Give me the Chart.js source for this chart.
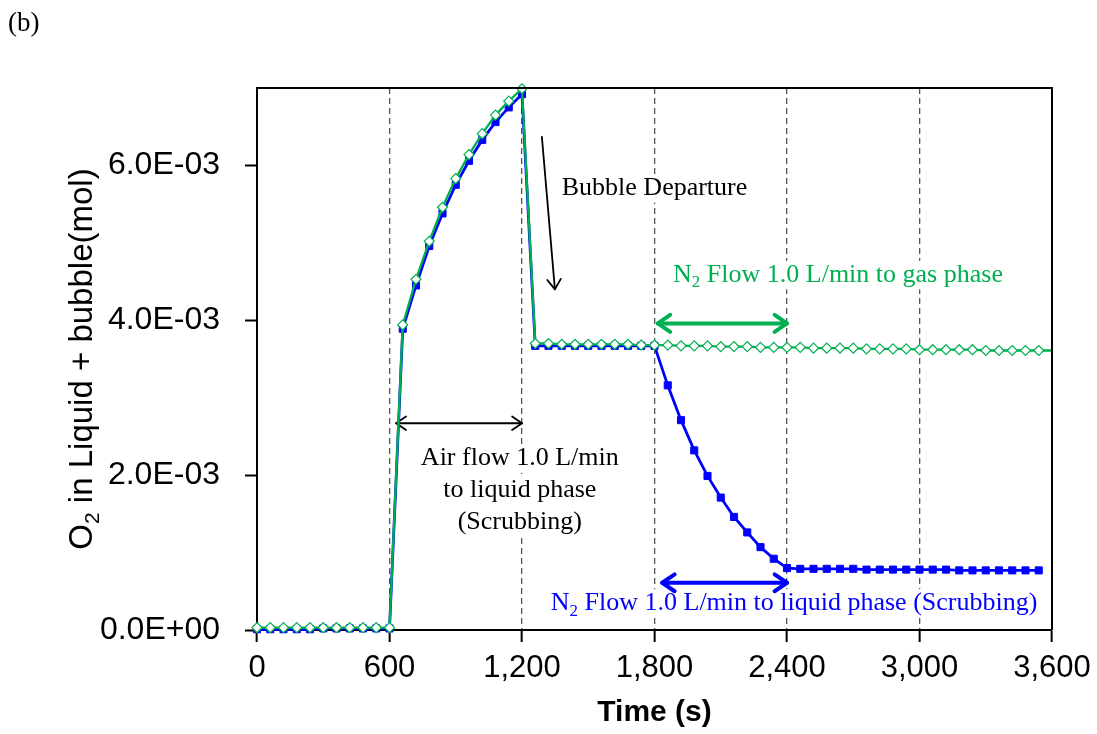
<!DOCTYPE html>
<html>
<head>
<meta charset="utf-8">
<script src="https://cdn.jsdelivr.net/npm/chart.js@4.4.0/dist/chart.umd.min.js"></script>
<style>
  html, body { margin: 0; padding: 0; background: #fff; }
  #wrap { position: relative; width: 1097px; height: 734px; }
</style>
</head>
<body>
<div id="wrap"><canvas id="o2chart"></canvas></div>
<script>
// Tiempo de muestreo (s), un punto por minuto
const timeS = [0, 60, 120, 180, 240, 300, 360, 420, 480, 540, 600,
  660, 720, 780, 840, 900, 960, 1020, 1080, 1140, 1200,
  1260, 1320, 1380, 1440, 1500, 1560, 1620, 1680, 1740, 1800,
  1860, 1920, 1980, 2040, 2100, 2160, 2220, 2280, 2340, 2400,
  2460, 2520, 2580, 2640, 2700, 2760, 2820, 2880, 2940, 3000,
  3060, 3120, 3180, 3240, 3300, 3360, 3420, 3480, 3540];

// O2 (mol) con N2 al liquido (azul)
const liquidO2 = [0.00001, 0.00001, 0.00001, 0.00001, 0.00001, 0.00002, 0.00002, 0.00002, 0.00002, 0.00002, 0.00002,
  0.00389, 0.00445, 0.00496, 0.00538, 0.00575, 0.00606, 0.00633, 0.00656, 0.00675, 0.00692,
  0.00367, 0.00367, 0.00367, 0.00367, 0.00367, 0.00367, 0.00367, 0.00367, 0.00367, 0.00367,
  0.00316, 0.00271, 0.00232, 0.00199, 0.00171, 0.00146, 0.00126, 0.00107, 0.00092, 0.00080,
  0.00079, 0.00079, 0.00079, 0.00079, 0.00079, 0.00078, 0.00078, 0.00078, 0.00078, 0.00078,
  0.00078, 0.00078, 0.00077, 0.00077, 0.00077, 0.00077, 0.00077, 0.00077, 0.00077];

// O2 (mol) con N2 a la fase gas (verde), sigue hasta 3600 s
const gasTime = timeS.concat([3600]);
const gasO2 = [0.00003, 0.00003, 0.00003, 0.00003, 0.00003, 0.00003, 0.00003, 0.00003, 0.00003, 0.00003, 0.00003,
  0.00394, 0.00453, 0.00502, 0.00546, 0.00583, 0.00614, 0.00641, 0.00665, 0.00683, 0.00699,
  0.00370, 0.00370, 0.00369, 0.00369, 0.00369, 0.00369, 0.00369, 0.00369, 0.00368, 0.00368,
  0.00368, 0.00367, 0.00367, 0.00367, 0.00366, 0.00366, 0.00366, 0.00365, 0.00365, 0.00365,
  0.00365, 0.00364, 0.00364, 0.00364, 0.00364, 0.00363, 0.00363, 0.00363, 0.00363, 0.00362,
  0.00362, 0.00362, 0.00362, 0.00362, 0.00361, 0.00361, 0.00361, 0.00361, 0.00361,
  0.00361];

const xTickValues = [0, 600, 1200, 1800, 2400, 3000, 3600];
const yTickValues = [0, 0.002, 0.004, 0.006];

const SANS = '"Liberation Sans", Arial, sans-serif';
const SERIF = '"Liberation Serif", "Times New Roman", serif';
const GREEN = 'rgb(0,176,80)';
const BLUE = '#0000ff';

// Texto con subindices: partes [{t, sub}]
function richWidth(ctx, parts, size, fam) {
  let w = 0;
  parts.forEach(p => {
    ctx.font = (p.sub ? Math.round(size * 0.65) : size) + 'px ' + fam;
    w += ctx.measureText(p.t).width;
  });
  return w;
}
function drawRich(ctx, parts, x, y, size, fam) {
  let cx = x;
  parts.forEach(p => {
    ctx.font = (p.sub ? Math.round(size * 0.65) : size) + 'px ' + fam;
    ctx.fillText(p.t, cx, p.sub ? y + size * 0.22 : y);
    cx += ctx.measureText(p.t).width;
  });
}

// Notas sobre la grafica (posiciones en unidades de los ejes, y = linea base)
const notes = [
  { parts: [{ t: 'Bubble Departure' }], t: 1380, v: 0.00562, align: 'left', color: '#000' },
  { parts: [{ t: 'N' }, { t: '2', sub: true }, { t: ' Flow 1.0 L/min to gas phase' }], t: 1884, v: 0.00450, align: 'left', color: GREEN },
  { parts: [{ t: 'Air flow 1.0 L/min' }], t: 1190, v: 0.00213, align: 'center', color: '#000' },
  { parts: [{ t: 'to liquid phase' }], t: 1190, v: 0.00172, align: 'center', color: '#000' },
  { parts: [{ t: '(Scrubbing)' }], t: 1190, v: 0.00131, align: 'center', color: '#000' },
  { parts: [{ t: 'N' }, { t: '2', sub: true }, { t: ' Flow 1.0 L/min to liquid phase (Scrubbing)' }], t: 2432, v: 0.00026, align: 'center', color: BLUE }
];

// Flechas: [t, v] inicio y fin
const arrows = [
  { from: [630, 0.00267], to: [1200, 0.00267], both: true, color: '#000', width: 1.8, head: 12 },
  { from: [1290, 0.00637], to: [1349, 0.00440], both: false, color: '#000', width: 1.8, head: 12 },
  { from: [1815, 0.00396], to: [2400, 0.00396], both: true, color: GREEN, width: 4, head: 15 },
  { from: [1835, 0.00061], to: [2400, 0.00061], both: true, color: BLUE, width: 4, head: 15 }
];

function arrowHead(ctx, x, y, ang, len) {
  ctx.beginPath();
  ctx.moveTo(x - len * Math.cos(ang - 0.6), y - len * Math.sin(ang - 0.6));
  ctx.lineTo(x, y);
  ctx.lineTo(x - len * Math.cos(ang + 0.6), y - len * Math.sin(ang + 0.6));
  ctx.stroke();
}

const notesPlugin = {
  id: 'notes',
  beforeDatasetsDraw(chart) {
    const { ctx, scales: { x, y } } = chart;
    ctx.save();
    ctx.textBaseline = 'alphabetic';
    const size = 26;
    const boxes = notes.map(n => {
      const w = richWidth(ctx, n.parts, size, SERIF);
      const px = x.getPixelForValue(n.t);
      return { n, w, left: n.align === 'center' ? px - w / 2 : px, py: y.getPixelForValue(n.v) };
    });
    // fondo blanco detras del texto (tapa la reticula)
    ctx.fillStyle = '#fff';
    boxes.forEach(b => ctx.fillRect(b.left - 4, b.py - size * 0.8, b.w + 8, size * 1.1));
    boxes.forEach(b => {
      ctx.fillStyle = b.n.color;
      drawRich(ctx, b.n.parts, b.left, b.py, size, SERIF);
    });
    ctx.lineCap = 'round';
    ctx.lineJoin = 'round';
    arrows.forEach(a => {
      const x1 = x.getPixelForValue(a.from[0]), y1 = y.getPixelForValue(a.from[1]);
      const x2 = x.getPixelForValue(a.to[0]), y2 = y.getPixelForValue(a.to[1]);
      ctx.strokeStyle = a.color;
      ctx.lineWidth = a.width;
      ctx.beginPath();
      ctx.moveTo(x1, y1);
      ctx.lineTo(x2, y2);
      ctx.stroke();
      const ang = Math.atan2(y2 - y1, x2 - x1);
      arrowHead(ctx, x2, y2, ang, a.head);
      if (a.both) arrowHead(ctx, x1, y1, ang + Math.PI, a.head);
    });
    ctx.restore();
  },
  afterDatasetsDraw(chart) {
    const { ctx, chartArea: a } = chart;
    ctx.save();
    // marco superior y derecho
    ctx.strokeStyle = '#000';
    ctx.lineWidth = 2;
    ctx.beginPath();
    ctx.moveTo(a.left, a.top);
    ctx.lineTo(a.right, a.top);
    ctx.lineTo(a.right, a.bottom);
    ctx.stroke();
    ctx.restore();
  },
  afterDraw(chart) {
    const { ctx, chartArea: a } = chart;
    ctx.save();
    ctx.fillStyle = '#000';
    ctx.textBaseline = 'alphabetic';
    // titulo eje Y con subindice
    const parts = [{ t: 'O' }, { t: '2', sub: true }, { t: ' in Liquid + bubble(mol)' }];
    const w = richWidth(ctx, parts, 33, SANS);
    ctx.translate(92, (a.top + a.bottom) / 2);
    ctx.rotate(-Math.PI / 2);
    drawRich(ctx, parts, -w / 2, 0, 33, SANS);
    ctx.restore();
    ctx.save();
    ctx.fillStyle = '#000';
    ctx.font = '27px ' + SERIF;
    ctx.fillText('(b)', 8, 31);
    ctx.restore();
  }
};

function sci(v) {
  const [m, e] = v.toExponential(1).split('e');
  const n = parseInt(e, 10);
  return m + 'E' + (n < 0 ? '-' : '+') + String(Math.abs(n)).padStart(2, '0');
}

new Chart(document.getElementById('o2chart'), {
  type: 'line',
  data: {
    datasets: [
      {
        label: 'N2 to gas phase',
        data: gasTime.map((t, i) => ({ x: t, y: gasO2[i] })),
        borderColor: GREEN,
        borderWidth: 2.3,
        pointStyle: 'rectRot',
        pointRadius: c => (c.dataIndex < timeS.length ? 5 : 0),
        pointBackgroundColor: '#fff',
        pointBorderColor: GREEN,
        pointBorderWidth: 1.2,
        tension: 0,
        clip: 8
      },
      {
        label: 'N2 to liquid phase',
        data: timeS.map((t, i) => ({ x: t, y: liquidO2[i] })),
        borderColor: BLUE,
        borderWidth: 2.8,
        pointStyle: 'rect',
        pointRadius: 5,
        pointBackgroundColor: BLUE,
        pointBorderColor: BLUE,
        pointBorderWidth: 1,
        tension: 0,
        clip: 8
      }
    ]
  },
  options: {
    responsive: true,
    maintainAspectRatio: false,
    animation: false,
    layout: { padding: { top: 88, right: 45, bottom: 0, left: 0 } },
    plugins: { legend: { display: false }, tooltip: { enabled: false } },
    scales: {
      x: {
        type: 'linear',
        min: 0,
        max: 3600,
        afterBuildTicks: s => { s.ticks = xTickValues.map(v => ({ value: v })); },
        afterFit: s => { s.height = 104; s.paddingLeft = 0; s.paddingRight = 0; },
        ticks: {
          autoSkip: false,
          maxRotation: 0,
          padding: 8,
          color: '#000',
          font: { family: SANS, size: 31 },
          callback: v => String(v).replace(/\B(?=(\d{3})+(?!\d))/g, ',')
        },
        grid: {
          color: c => (c.tick && (c.tick.value === 0 || c.tick.value === 3600)) ? 'rgba(0,0,0,0)' : '#555',
          lineWidth: 1.3,
          tickColor: '#000',
          tickLength: 12,
          tickWidth: 2
        },
        border: { color: '#000', width: 2, dash: [6, 4] },
        title: {
          display: true,
          text: 'Time (s)',
          color: '#000',
          font: { family: SANS, size: 30, weight: 'bold' },
          padding: { top: 0, bottom: 3 }
        }
      },
      y: {
        type: 'linear',
        min: 0,
        max: 0.007,
        afterBuildTicks: s => { s.ticks = yTickValues.map(v => ({ value: v })); },
        afterFit: s => { s.width = 257; },
        ticks: {
          padding: 25,
          color: '#000',
          font: { family: SANS, size: 32 },
          callback: v => sci(v)
        },
        grid: {
          drawOnChartArea: false,
          tickColor: '#000',
          tickLength: 12,
          tickWidth: 2
        },
        border: { color: '#000', width: 2 }
      }
    }
  },
  plugins: [notesPlugin]
});
</script>
</body>
</html>
